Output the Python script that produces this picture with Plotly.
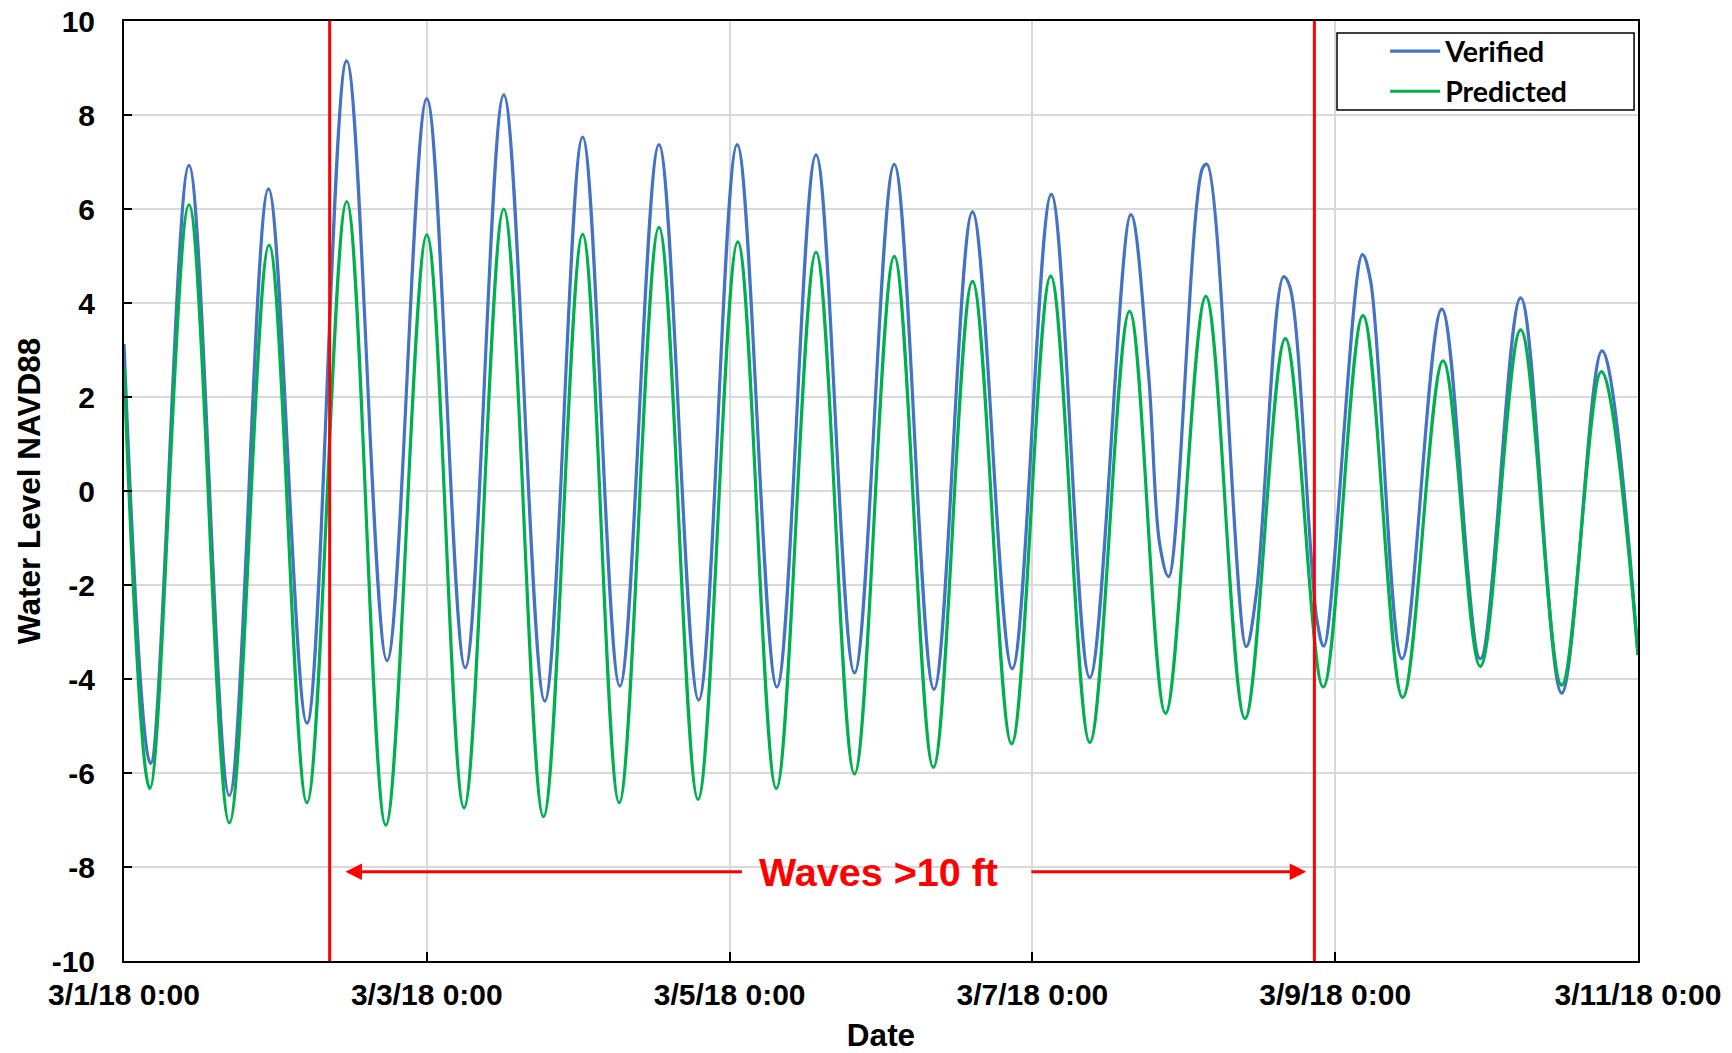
import pandas as pd
import plotly.graph_objects as go

# Turning points and bends of each record: hours after 3/1/18 0:00, water level (ft NAVD88)
verified_hours = [0.0, 4.2, 10.3, 16.7, 22.9, 29.0, 35.3, 41.7, 48.0, 54.1, 60.2, 66.7,
                  72.7, 78.6, 84.8, 91.1, 97.2, 103.5, 109.7, 115.8, 122.1, 128.4, 134.5,
                  140.8, 147.0, 153.1, 159.6, 162.4, 164.2, 165.6, 171.0, 171.7,
                  177.9, 179.5, 183.8, 184.8, 189.1, 190.2, 196.3, 197.6, 202.6, 208.9,
                  215.0, 221.4, 227.9, 234.3, 240.0]
verified_level = [3.13, -5.80, 6.93, -6.48, 6.43, -4.94, 9.15, -3.61, 8.35, -3.76, 8.43, -4.47,
                  7.53, -4.15, 7.37, -4.45, 7.37, -4.17, 7.15, -3.87, 6.95, -4.22, 5.94,
                  -3.78, 6.31, -3.97, 5.88, 2.50, -1.15, -1.82, 6.88, 6.95,
                  -3.31, -2.18, 4.56, 4.35, -2.74, -3.30, 5.03, 4.48, -3.57, 3.87,
                  -3.57, 4.11, -4.30, 2.98, -3.49]

predicted_hours = [0.0, 4.1, 10.3, 16.7, 23.0, 29.0, 35.3, 41.5, 48.0, 53.9, 60.2, 66.5,
                   72.7, 78.5, 84.8, 91.0, 97.3, 103.4, 109.7, 115.8, 122.1, 128.3, 134.5,
                   140.7, 146.9, 153.1, 159.4, 165.1, 171.5, 177.7, 184.1, 190.1, 196.4,
                   202.7, 209.1, 215.0, 221.4, 227.9, 234.2, 240.0]
predicted_level = [2.61, -6.33, 6.09, -7.06, 5.23, -6.63, 6.16, -7.11, 5.45, -6.74, 6.00, -6.93,
                   5.46, -6.63, 5.61, -6.56, 5.30, -6.33, 5.08, -6.02, 4.99, -5.88, 4.46,
                   -5.38, 4.57, -5.35, 3.82, -4.73, 4.14, -4.84, 3.24, -4.17, 3.73,
                   -4.39, 2.77, -3.73, 3.43, -4.13, 2.54, -3.49]

# Water-level axis ticks (plain hyphen for negatives)
level_ticks = [-10, -8, -6, -4, -2, 0, 2, 4, 6, 8, 10]
level_tick_text = ["-10", "-8", "-6", "-4", "-2", "0", "2", "4", "6", "8", "10"]

# Storm window markers and the ">10 ft waves" span (hours after 3/1/18 0:00)
window_hours = [32.6, 188.7]
arrow_tips = [35.1, 187.4]
arrow_tails = [98.2, 143.6]
label_hour = 119.6
label_level = -8.1

START = pd.Timestamp("2018-03-01 00:00")


def to_time(hours):
    return [START + pd.Timedelta(hours=h) for h in hours]


def fmt(ts):
    return ts.strftime("%Y-%m-%d %H:%M:%S")


BLUE = "#4472C4"
GREEN = "#00B050"
RED = "#FF0000"
TICK_FONT = dict(family="Liberation Sans, Arial", size=30, color="#000000", weight="bold")
TITLE_FONT = dict(family="Liberation Sans, Arial", size=31.5, color="#000000", weight="bold")

fig = go.Figure()
fig.add_trace(go.Scatter(
    x=to_time(verified_hours), y=verified_level, name="Verified",
    mode="lines", line=dict(color=BLUE, width=3.2, shape="spline", smoothing=1),
))
fig.add_trace(go.Scatter(
    x=to_time(predicted_hours), y=predicted_level, name="Predicted",
    mode="lines", line=dict(color=GREEN, width=3.2, shape="spline", smoothing=1),
))

shapes = []
for h in window_hours:
    t = fmt(to_time([h])[0])
    shapes.append(dict(type="line", xref="x", yref="paper", x0=t, x1=t, y0=0, y1=1,
                       line=dict(color=RED, width=3), layer="above"))
# legend frame
shapes.append(dict(type="rect", xref="paper", yref="paper", x0=0.8012, x1=0.9974,
                   y0=0.9053, y1=0.9872, line=dict(color="#000000", width=1.5),
                   fillcolor="white", layer="above"))

annotations = []
for tip, tail in zip(arrow_tips, arrow_tails):
    annotations.append(dict(
        x=fmt(to_time([tip])[0]), y=label_level, ax=fmt(to_time([tail])[0]), ay=label_level,
        xref="x", yref="y", axref="x", ayref="y", text="", showarrow=True,
        arrowhead=2, arrowsize=1.1, arrowwidth=3, arrowcolor=RED,
    ))
annotations.append(dict(
    x=fmt(to_time([label_hour])[0]), y=label_level, xref="x", yref="y",
    text="Waves >10 ft", showarrow=False,
    font=dict(family="Liberation Sans, Arial", size=39.5, color=RED, weight="bold"),
))

fig.update_layout(
    width=1732, height=1053,
    margin=dict(l=124, r=94, t=21, b=92, autoexpand=False),
    paper_bgcolor="white", plot_bgcolor="white",
    shapes=shapes, annotations=annotations,
    showlegend=True,
    legend=dict(
        x=0.833, y=0.9945, xanchor="left", yanchor="top",
        bgcolor="rgba(0,0,0,0)", borderwidth=0,
        font=dict(family="Lato", size=28.5, color="#000000", weight="bold"),
        itemwidth=50, tracegroupgap=0,
    ),
    xaxis=dict(
        type="date", automargin=False,
        range=["2018-03-01 00:00:00", "2018-03-11 00:00:00"],
        tick0="2018-03-01", dtick=2 * 86400000,
        tickformat="%-m/%-d/%y %-H:%M",
        showgrid=True, gridcolor="#d9d9d9", gridwidth=1.5,
        showline=True, linecolor="#000000", linewidth=2, mirror=True,
        ticks="inside", ticklen=9, tickwidth=2, tickcolor="#000000",
        tickfont=TICK_FONT, ticklabelstandoff=6,
        title=dict(text="Date", font=TITLE_FONT, standoff=30),
        zeroline=False,
    ),
    yaxis=dict(
        range=[-10, 10], automargin=False,
        tickmode="array", tickvals=level_ticks, ticktext=level_tick_text,
        showgrid=True, gridcolor="#d9d9d9", gridwidth=1.5,
        showline=True, linecolor="#000000", linewidth=2, mirror=True,
        ticks="inside", ticklen=8, tickwidth=2, tickcolor="#000000",
        tickfont=TICK_FONT, ticklabelstandoff=21,
        title=dict(text="Water Level NAVD88", font=TITLE_FONT, standoff=2),
        zeroline=False,
    ),
)

fig.write_html("out.html")
